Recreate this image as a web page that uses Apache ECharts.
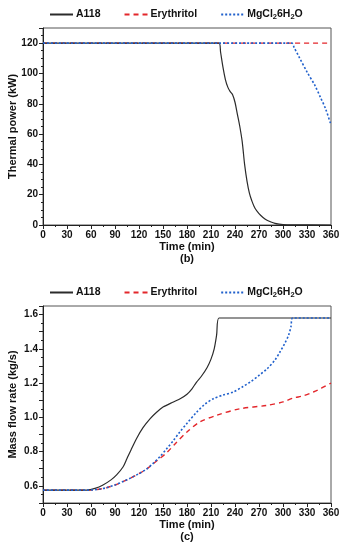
<!DOCTYPE html>
<html>
<head>
<meta charset="utf-8">
<script src="https://cdn.jsdelivr.net/npm/echarts@6/dist/echarts.min.js"></script>
<style>html,body{margin:0;padding:0;background:#fff}#c{width:344px;height:550px}</style>
</head>
<body>
<div id="c"></div>
<script>
// ---- Data (b) Thermal power (kW) ----
const seriesNames = ['A118', 'Erythritol', 'MgCl₂6H₂O'];
const xTicks = [0, 30, 60, 90, 120, 150, 180, 210, 240, 270, 300, 330, 360];

const powerA118T = [0, 220, 222, 225, 228, 231, 234, 237, 240, 243, 246, 249, 252, 255, 258, 261, 265, 270, 275, 280, 285, 290, 295, 300, 310, 360];
const powerA118V = [120, 120, 114, 104, 96, 91, 88, 86, 81, 73, 65, 55, 40, 29, 21, 16, 11, 7.5, 5, 3.2, 2, 1.1, 0.6, 0.3, 0.1, 0];

const powerEryT = [0, 360];
const powerEryV = [120, 120];

const powerMgT = [0, 311, 314, 320, 330, 340, 347, 353, 360];
const powerMgV = [120, 120, 117, 111, 101, 92, 84, 77, 66];

// ---- Data (c) Mass flow rate (kg/s) ----
const flowA118T = [0, 55, 65, 75, 85, 92, 100, 105, 110, 117, 125, 134, 142, 150, 163, 172, 180, 186, 192, 198, 205, 210, 214, 217, 220, 360];
const flowA118V = [0.575, 0.575, 0.585, 0.605, 0.635, 0.664, 0.71, 0.76, 0.81, 0.877, 0.94, 0.993, 1.03, 1.06, 1.09, 1.11, 1.135, 1.165, 1.206, 1.24, 1.29, 1.34, 1.40, 1.48, 1.58, 1.58];

const flowEryT = [0, 55, 70, 80, 90, 100, 110, 121, 130, 138, 146, 155, 165, 180, 196, 217, 246, 280, 300, 313, 325, 338, 348, 360];
const flowEryV = [0.575, 0.575, 0.58, 0.59, 0.605, 0.625, 0.647, 0.674, 0.70, 0.73, 0.76, 0.795, 0.845, 0.915, 0.973, 1.012, 1.05, 1.07, 1.09, 1.113, 1.125, 1.148, 1.17, 1.20];

const flowMgT = [0, 55, 70, 80, 90, 100, 110, 121, 130, 138, 146, 155, 163, 171, 180, 192, 202, 213, 225, 238, 250, 259, 270, 280, 290, 296, 302, 307, 310, 312, 360];
const flowMgV = [0.575, 0.575, 0.58, 0.59, 0.605, 0.625, 0.647, 0.674, 0.70, 0.733, 0.77, 0.819, 0.865, 0.915, 0.965, 1.03, 1.075, 1.109, 1.13, 1.148, 1.18, 1.206, 1.245, 1.283, 1.335, 1.38, 1.43, 1.48, 1.53, 1.58, 1.58];

function pairs(t, v) { return t.map((x, i) => [x, v[i]]); }

const colors = ['#2b2b2b', '#e3262b', '#2060cc'];
const lineTypes = ['solid', [5, 4], [2, 2]];
const widths = [1.2, 1.4, 1.6];

const font = 'Liberation Sans, Arial, sans-serif';
const txt = { fontFamily: font, fontWeight: 'bold', color: '#111' };

function xAxisDef(gridIndex, name) {
  return {
    type: 'value', gridIndex, min: 0, max: 360, interval: 30,
    name: name, nameLocation: 'middle', nameGap: 16, nameMoveOverlap: false,
    nameTextStyle: Object.assign({}, txt, { fontSize: 11, lineHeight: 12, verticalAlign: 'top' }),
    axisLine: { show: true, lineStyle: { color: '#222', width: 1 } },
    axisTick: { show: true, inside: false, length: 4, lineStyle: { color: '#222' } },
    minorTick: { show: true, splitNumber: 2, length: 2, lineStyle: { color: '#222' } },
    axisLabel: Object.assign({}, txt, { fontSize: 10, margin: 5 }),
    splitLine: { show: false }
  };
}

function yAxisDef(gridIndex, name, min, max, interval, fmt, minorSplit, gap) {
  return {
    type: 'value', gridIndex, min, max, interval,
    name: name, nameLocation: 'middle', nameGap: gap, nameMoveOverlap: false,
    nameTextStyle: Object.assign({}, txt, { fontSize: 11 }),
    axisLine: { show: true, onZero: false, lineStyle: { color: '#222', width: 1 } },
    axisTick: { show: true, inside: false, length: 4, lineStyle: { color: '#222' } },
    minorTick: { show: true, splitNumber: minorSplit, length: 2, lineStyle: { color: '#222' } },
    axisLabel: Object.assign({}, txt, { fontSize: 10, margin: 5, formatter: fmt, showMaxLabel: true }),
    splitLine: { show: false }
  };
}

function mkSeries(name, idx, data, axisIndex, z) {
  return {
    name, type: 'line', xAxisIndex: axisIndex, yAxisIndex: axisIndex,
    data, showSymbol: false, symbol: 'none', smooth: 0.3, z: z,
    lineStyle: { color: colors[idx], type: lineTypes[idx], width: widths[idx] },
    itemStyle: { color: colors[idx] },
    animation: false
  };
}

const legendBase = {
  itemWidth: 23, itemHeight: 10, itemGap: 23,
  textStyle: Object.assign({}, txt, {
    fontSize: 10.5, padding: [0, 0, 0, -2],
    rich: { s: Object.assign({}, txt, { fontSize: 7.5, padding: [5, 0, 0, 0] }) }
  }),
  itemStyle: { color: 'rgba(0,0,0,0)', borderColor: 'rgba(0,0,0,0)', borderWidth: 0, opacity: 0 },
  data: seriesNames,
  selectedMode: false,
  formatter: n => n === seriesNames[2] ? 'MgCl{s|2}6H{s|2}O' : n
};

const chart = echarts.init(document.getElementById('c'), null, { renderer: 'canvas' });
chart.setOption({
  backgroundColor: '#fff',
  animation: false,
  legend: [
    Object.assign({}, legendBase, { top: 4, left: 44 }),
    Object.assign({}, legendBase, { top: 282, left: 44 })
  ],
  grid: [
    { left: 43, right: 13, top: 28, height: 197, containLabel: false, outerBoundsMode: 'none', show: true, borderColor: '#555', borderWidth: 1, backgroundColor: 'transparent' },
    { left: 43, right: 13, top: 306, height: 197, containLabel: false, outerBoundsMode: 'none', show: true, borderColor: '#555', borderWidth: 1, backgroundColor: 'transparent' }
  ],
  xAxis: [
    xAxisDef(0, 'Time (min)\n(b)'),
    xAxisDef(1, 'Time (min)\n(c)')
  ],
  yAxis: [
    yAxisDef(0, 'Thermal power (kW)', 0, 130, 20,
      v => (Math.abs(v % 20) < 1e-6 ? String(v) : ''), 4, 25),
    yAxisDef(1, 'Mass flow rate (kg/s)', 0.5, 1.65, 0.1,
      v => { const k = v * 10; const r = Math.round(k); return (Math.abs(k - r) < 1e-6 && r % 2 === 0) ? v.toFixed(1) : ''; }, 2, 25)
  ],
  series: [
    mkSeries(seriesNames[0], 0, pairs(powerA118T, powerA118V), 0, 3),
    mkSeries(seriesNames[1], 1, pairs(powerEryT, powerEryV), 0, 2),
    mkSeries(seriesNames[2], 2, pairs(powerMgT, powerMgV), 0, 4),
    mkSeries(seriesNames[0], 0, pairs(flowA118T, flowA118V), 1, 3),
    mkSeries(seriesNames[1], 1, pairs(flowEryT, flowEryV), 1, 2),
    mkSeries(seriesNames[2], 2, pairs(flowMgT, flowMgV), 1, 4)
  ]
});
</script>
</body>
</html>
